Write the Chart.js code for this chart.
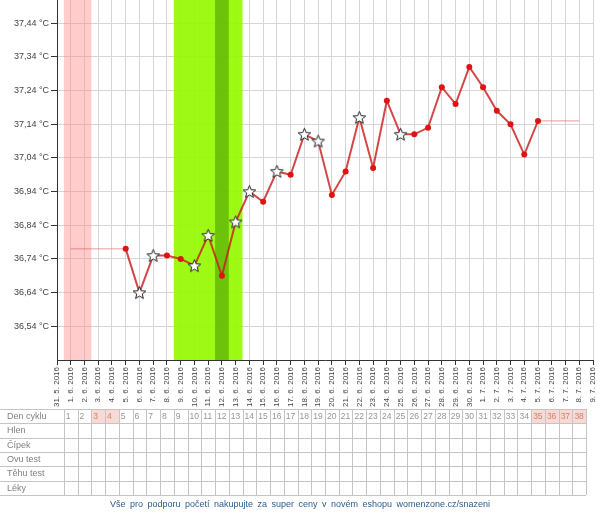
<!DOCTYPE html>
<html><head><meta charset="utf-8">
<script src="https://cdn.jsdelivr.net/npm/chart.js@4/dist/chart.umd.min.js"></script>
<style>
html,body{margin:0;padding:0;background:#fff;width:600px;height:514px;overflow:hidden;font-family:"Liberation Sans",Arial,sans-serif}
#wrap{position:relative;width:600px;height:514px}
#c{position:absolute;left:0;top:0}
#tbl{position:absolute;left:0;top:0;width:600px;height:514px}
.hl{position:absolute;height:0;border-top:1px solid #c4c4c4}
.vl{position:absolute;width:0;border-left:1px solid #c4c4c4}
.lab{position:absolute;font-size:9px;color:#808080;line-height:14px;white-space:nowrap}
.num{position:absolute;font-size:8.5px;color:#959595;line-height:14px;text-align:left;padding-left:2px;box-sizing:border-box}
.pink{background:#f9d9d4;color:#d08070}
#footer{position:absolute;left:0;width:600px;top:499px;text-align:center;font-family:"Liberation Sans",Arial,sans-serif;font-size:9px;color:#2c5d8f;word-spacing:2px;white-space:nowrap}
</style></head>
<body>
<div id="wrap">
<canvas id="c" width="600" height="410"></canvas>
<div id="tbl"></div>
<div id="footer">Vše pro podporu početí nakupujte za super ceny v novém eshopu womenzone.cz/snazeni</div>
</div>
<script>
// ---- data ----
const dates = ['31. 5. 2016','1. 6. 2016','2. 6. 2016','3. 6. 2016','4. 6. 2016','5. 6. 2016','6. 6. 2016','7. 6. 2016','8. 6. 2016','9. 6. 2016',
 '10. 6. 2016','11. 6. 2016','12. 6. 2016','13. 6. 2016','14. 6. 2016','15. 6. 2016','16. 6. 2016','17. 6. 2016','18. 6. 2016','19. 6. 2016',
 '20. 6. 2016','21. 6. 2016','22. 6. 2016','23. 6. 2016','24. 6. 2016','25. 6. 2016','26. 6. 2016','27. 6. 2016','28. 6. 2016','29. 6. 2016',
 '30. 6. 2016','1. 7. 2016','2. 7. 2016','3. 7. 2016','4. 7. 2016','5. 7. 2016','6. 7. 2016','7. 7. 2016','8. 7. 2016','9. 7. 2016'];
const tempDates = ['5. 6. 2016','6. 6. 2016','7. 6. 2016','8. 6. 2016','9. 6. 2016','10. 6. 2016','11. 6. 2016','12. 6. 2016','13. 6. 2016','14. 6. 2016',
 '15. 6. 2016','16. 6. 2016','17. 6. 2016','18. 6. 2016','19. 6. 2016','20. 6. 2016','21. 6. 2016','22. 6. 2016','23. 6. 2016','24. 6. 2016',
 '25. 6. 2016','26. 6. 2016','27. 6. 2016','28. 6. 2016','29. 6. 2016','30. 6. 2016','1. 7. 2016','2. 7. 2016','3. 7. 2016','4. 7. 2016','5. 7. 2016'];
const temps = [36.77,36.64,36.75,36.75,36.74,36.72,36.81,36.69,36.85,36.94,
 36.91,37.00,36.99,37.11,37.09,36.93,37.00,37.16,37.01,37.21,
 37.11,37.11,37.13,37.25,37.20,37.31,37.25,37.18,37.14,37.05,37.15];
const starDates = ['6. 6. 2016','7. 6. 2016','10. 6. 2016','11. 6. 2016','13. 6. 2016','14. 6. 2016','16. 6. 2016','18. 6. 2016','19. 6. 2016','22. 6. 2016','25. 6. 2016'];
const leadInLine = [{x:'1. 6. 2016', y:36.77},{x:'5. 6. 2016', y:36.77}];
const trailLine = [{x:'5. 7. 2016', y:37.15},{x:'8. 7. 2016', y:37.15}];
const yTicks = [36.54,36.64,36.74,36.84,36.94,37.04,37.14,37.24,37.34,37.44];
const menstruationBand = ['1. 6. 2016','2. 6. 2016'];
const fertileBand = ['9. 6. 2016','10. 6. 2016','11. 6. 2016','12. 6. 2016','13. 6. 2016'];
const ovulationBand = ['12. 6. 2016'];
const rowLabels = ['Den cyklu','Hlen','Čípek','Ovu test','Těhu test','Léky'];
const cycleDays = [1,2,3,4,5,6,7,8,9,10,11,12,13,14,15,16,17,18,19,20,21,22,23,24,25,26,27,28,29,30,31,32,33,34,35,36,37,38];
const pinkCycleDays = [3,4,35,36,37,38];

// ---- star marker ----
function makeStar(){
  const c=document.createElement('canvas'); c.width=15; c.height=15;
  const g=c.getContext('2d');
  g.beginPath();
  for(let i=0;i<10;i++){
    const r = i%2 ? 2.9 : 6.6;
    const a = -Math.PI/2 + i*Math.PI/5;
    g.lineTo(7.5+r*Math.cos(a), 8+r*Math.sin(a));
  }
  g.closePath(); g.fillStyle='#fff'; g.fill();
  g.strokeStyle='#222'; g.lineWidth=1; g.stroke();
  return c;
}
const star = makeStar();
const mainData = tempDates.map((d,i)=>({x:d, y:temps[i]}));
const ptStyles = tempDates.map(d => starDates.includes(d) ? star : 'circle');

const bandPlugin = {
  id:'bands',
  beforeDatasetsDraw(chart){
    const {ctx, chartArea:a, scales:{x}} = chart;
    const half = (x.getPixelForValue(1)-x.getPixelForValue(0))/2;
    const draw = (list, color) => {
      const idx = list.map(d=>dates.indexOf(d));
      const l = x.getPixelForValue(Math.min(...idx))-half;
      const r = x.getPixelForValue(Math.max(...idx))+half;
      ctx.save(); ctx.fillStyle=color; ctx.fillRect(l, a.top, r-l, a.bottom-a.top); ctx.restore();
    };
    draw(menstruationBand,'rgba(255,130,130,0.42)');
    draw(fertileBand,'rgba(150,250,0,0.92)');
    draw(ovulationBand,'rgba(70,150,0,0.55)');
  }
};

const chart = new Chart(document.getElementById('c'), {
  type:'line',
  data:{ labels: dates, datasets:[
    { data: mainData, borderColor:'rgba(200,25,25,0.8)', borderWidth:2, tension:0,
      pointStyle: ptStyles, pointRadius:3, pointBackgroundColor:'rgb(222,20,20)', pointBorderColor:'rgb(222,20,20)', pointBorderWidth:0, order:1 },
    { data: leadInLine, borderColor:'rgba(210,90,90,0.6)', borderWidth:1, pointRadius:0, order:2 },
    { data: trailLine, borderColor:'rgba(210,90,90,0.6)', borderWidth:1, pointRadius:0, order:2 }
  ]},
  options:{
    responsive:false, animation:false, events:[],
    layout:{ autoPadding:false, padding:{left:0, right:7, top:0, bottom:0} },
    plugins:{ legend:{display:false}, tooltip:{enabled:false} },
    scales:{
      x:{ type:'category', offset:false,
        ticks:{ autoSkip:false, maxRotation:90, minRotation:90, padding:2, color:'#444', font:{size:8, family:'Liberation Sans'} },
        grid:{ color:'#d6d6d6', tickColor:'#333', tickLength:5, offset:false },
        border:{ color:'#333' },
        afterFit(s){ s.height = 50; s.paddingLeft = 0; s.paddingRight = 0; }
      },
      y:{ type:'linear', min:36.44, max:37.509,
        afterBuildTicks(s){ s.ticks = yTicks.map(v=>({value:v})); },
        ticks:{ padding:2, color:'#444', font:{size:9, family:'Liberation Sans'},
          callback:(v)=> Number(v).toFixed(2).replace('.',',')+' °C' },
        grid:{ color:'#d6d6d6', tickColor:'#333', tickLength:6 },
        border:{ color:'#333' },
        afterFit(s){ s.width = 57; s.paddingTop = 0; s.paddingBottom = 0; }
      }
    }
  },
  plugins:[bandPlugin]
});

// ---- table below the chart ----
(function(){
  const tbl = document.getElementById('tbl');
  const x = chart.scales.x;
  const step = x.getPixelForValue(1)-x.getPixelForValue(0);
  const top = 409, rowH = 14.33;
  const left0 = x.getPixelForValue(1)-step/2;
  const right = x.getPixelForValue(cycleDays.length)+step/2;
  const add = (cls, css, txt) => { const d=document.createElement('div'); d.className=cls; Object.assign(d.style, css); if(txt!==undefined) d.textContent=txt; tbl.appendChild(d); return d; };
  cycleDays.forEach(n=>{
    const l = x.getPixelForValue(n)-step/2;
    add('num'+(pinkCycleDays.includes(n)?' pink':''), {left:l+'px', top:(top)+'px', width:step+'px', height:rowH+'px'}, String(n));
  });
  rowLabels.forEach((t,i)=> add('lab', {left:'7px', top:(top+i*rowH)+'px', height:rowH+'px'}, t));
  for(let i=0;i<=rowLabels.length;i++) add('hl', {left:'0px', top:(Math.round(top+i*rowH))+'px', width:right+'px'});
  for(let n=0;n<=cycleDays.length;n++){
    const l = left0 + n*step;
    add('vl', {left:Math.round(l)+'px', top:top+'px', height:(rowH*rowLabels.length)+'px'});
  }
})();
</script>
</body></html>
